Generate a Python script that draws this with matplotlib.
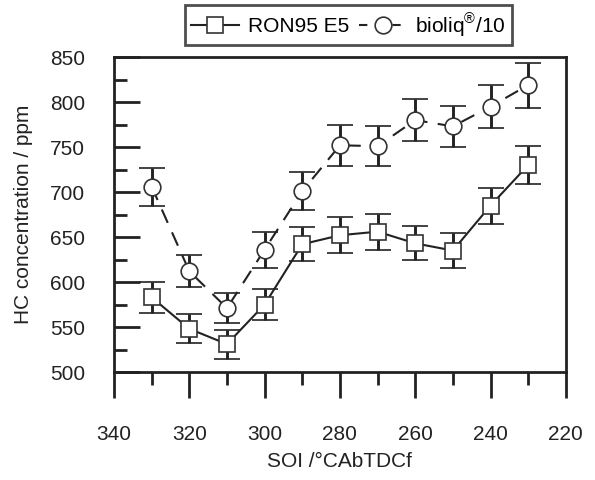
import numpy as np
import matplotlib
matplotlib.use('Agg')
import matplotlib.pyplot as plt
from matplotlib.ticker import MultipleLocator
from matplotlib.lines import Line2D

plt.rcParams['font.family'] = ['Liberation Sans', 'DejaVu Sans']
plt.rcParams['mathtext.fontset'] = 'custom'
plt.rcParams['mathtext.rm'] = 'Liberation Sans'

# SOI in °CA bTDCf
soi = [330, 320, 310, 300, 290, 280, 270, 260, 250, 240, 230]

# RON95 E5
ron_hc = [583, 548, 531, 575, 642, 652, 656, 643, 635, 685, 730]
ron_err = [17, 16, 16, 17, 19, 20, 20, 19, 19, 20, 21]

# bioliq / 10
bio_hc = [706, 612, 571, 636, 701, 752, 751, 780, 773, 795, 819]
bio_err = [21, 18, 17, 20, 21, 23, 22, 23, 23, 24, 25]

ink = '#222222'
dash = (0, (7, 5))

fig = plt.figure(figsize=(5.95, 4.8), dpi=100)
ax = fig.add_axes([0.1916, 0.225, 0.7594, 0.656])

ax.errorbar(soi, ron_hc, yerr=ron_err, color=ink, lw=1.5, ls='-',
            marker='s', ms=11, mfc='white', mec='#333333', mew=1.2,
            ecolor=ink, elinewidth=2.1, capsize=9.7, capthick=2.1)
ax.errorbar(soi, bio_hc, yerr=bio_err, color=ink, lw=1.5, ls=dash,
            marker='o', ms=12, mfc='white', mec='#333333', mew=1.2,
            ecolor=ink, elinewidth=2.1, capsize=9.7, capthick=2.1)

ax.set_xlim(340, 220)
ax.set_ylim(500, 850)
ax.xaxis.set_major_locator(MultipleLocator(20))
ax.xaxis.set_minor_locator(MultipleLocator(10))
ax.yaxis.set_major_locator(MultipleLocator(50))
ax.yaxis.set_minor_locator(MultipleLocator(25))

ax.tick_params(axis='x', which='major', direction='out', length=19, width=2,
               pad=19, labelsize=15, colors=ink)
ax.tick_params(axis='x', which='minor', direction='out', length=9.5, width=2,
               colors=ink)
ax.tick_params(axis='y', which='major', direction='in', length=19, width=2,
               pad=21, labelsize=15, colors=ink)
ax.tick_params(axis='y', which='minor', direction='in', length=9.5, width=2,
               colors=ink)

for s in ax.spines.values():
    s.set_linewidth(2)
    s.set_color(ink)

ax.set_xlabel('SOI /°CAbTDCf', fontsize=15, color=ink, labelpad=6)
ax.set_ylabel('HC concentration / ppm', fontsize=15, color=ink, labelpad=12)

handles = [
    Line2D([], [], color=ink, lw=1.5, ls='-', marker='s', ms=11,
           mfc='white', mec='#333333', mew=1.2),
    Line2D([], [], color=ink, lw=1.5, ls=(0, (4, 4)), marker='o', ms=12,
           mfc='white', mec='#333333', mew=1.2),
]
labels = ['RON95 E5', 'bioliq$^{®}$/10']
leg = fig.legend(handles, labels, loc='center', bbox_to_anchor=(0.586, 0.948),
                 ncol=2, fontsize=15, frameon=True, fancybox=False,
                 handlelength=2.3, handletextpad=0.4, columnspacing=0.5,
                 borderpad=0.3, borderaxespad=0)
leg.get_frame().set_edgecolor(ink)
leg.get_frame().set_linewidth(2)

fig.savefig('out.png', dpi=100)
